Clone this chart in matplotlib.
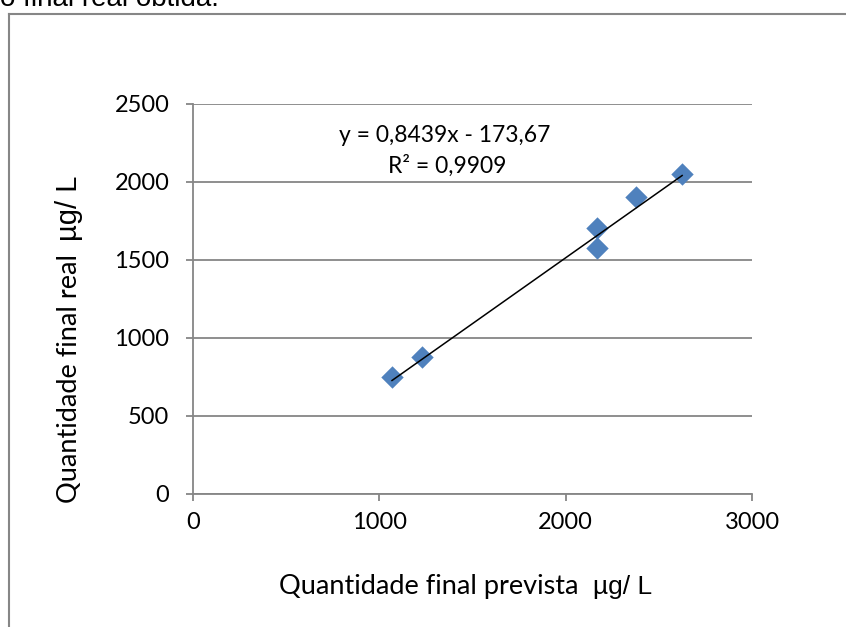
"""Scatter of predicted vs real final quantity with linear trendline"""
import matplotlib
matplotlib.use("Agg")
import numpy as np
import matplotlib.pyplot as plt

# -----------------------------------------------------------------------------
# Data

prevista = [1068, 1229, 2168, 2168, 2378, 2625]
real = [750, 878, 1705, 1577, 1904, 2051]

slope = 0.8439
intercept = -173.67
eq_text = "y = 0,8439x - 173,67"
r2_text = "R² = 0,9909"

x_ticks = [0, 1000, 2000, 3000]
y_ticks = [0, 500, 1000, 1500, 2000, 2500]

# -----------------------------------------------------------------------------
# Styling

W, H = 846, 627
GRAY = "#868686"
BLUE = "#4F81BD"
BODY = "Lato"
ARIAL = "Liberation Sans"


def fx(px):
    return px / W


def fy(py):
    return 1 - py / H


fig = plt.figure(figsize=(W / 100, H / 100), dpi=100)

# frame of the embedded chart (only left and top edges are visible)
fig.add_artist(plt.Line2D([fx(9), fx(9)], [fy(13.5), -0.1], color=GRAY, lw=1.5))
fig.add_artist(plt.Line2D([fx(9), 1.1], [fy(13.5), fy(13.5)], color=GRAY, lw=1.5))

# cropped line of document text above the chart
fig.text(0, fy(6), "o final real obtida.", family=ARIAL, fontsize=20,
         ha="left", va="baseline")

ax_l, ax_r, ax_b, ax_t = 193, 752, 494, 104
ax = fig.add_axes([fx(ax_l), fy(ax_b), fx(ax_r) - fx(ax_l), fy(ax_t) - fy(ax_b)])

ax.scatter(prevista, real, marker="D", s=130, color=BLUE, zorder=3,
           linewidths=0)

xs = np.array([min(prevista), max(prevista)])
ax.plot(xs, slope * xs + intercept, color="black", lw=1.1, zorder=4)

ax.set_xlim(0, 3000)
ax.set_ylim(0, 2500)
ax.set_xticks(x_ticks)
ax.set_yticks(y_ticks)
ax.grid(axis="y", color=GRAY, lw=1.3)
ax.set_axisbelow(True)

for side in ["top", "right"]:
    ax.spines[side].set_visible(False)
for side in ["left", "bottom"]:
    ax.spines[side].set_color(GRAY)
    ax.spines[side].set_linewidth(1.3)

ax.tick_params(axis="both", color=GRAY, width=1.3, length=5, direction="out",
               labelsize=17)
ax.tick_params(axis="y", pad=12)
ax.tick_params(axis="x", pad=8)
for lab in ax.get_xticklabels() + ax.get_yticklabels():
    lab.set_family(BODY)

# trendline equation (positions in axes fraction)
def axfrac(px, py):
    return (px - ax_l) / (ax_r - ax_l), (ax_b - py) / (ax_b - ax_t)


ax.text(*axfrac(445, 142), eq_text, transform=ax.transAxes, family=BODY,
        fontsize=16.5, ha="center", va="baseline")
ax.text(*axfrac(447, 173), r2_text, transform=ax.transAxes, family=BODY,
        fontsize=16.5, ha="center", va="baseline")

# axis labels (two fonts each, as in the reference)
fig.text(fx(279), fy(594), "Quantidade final prevista", family=BODY,
         fontsize=19.5, ha="left", va="baseline")
fig.text(fx(652), fy(594), "µg/ L", family=ARIAL, fontsize=19,
         ha="right", va="baseline")

fig.text(fx(77), fy(503), "Quantidade final real", family=BODY, fontsize=19.5,
         rotation=90, rotation_mode="anchor", ha="left", va="baseline")
fig.text(fx(77), fy(176), "µg/ L", family=ARIAL, fontsize=21,
         rotation=90, rotation_mode="anchor", ha="right", va="baseline")

fig.savefig("out.png", dpi=100)
